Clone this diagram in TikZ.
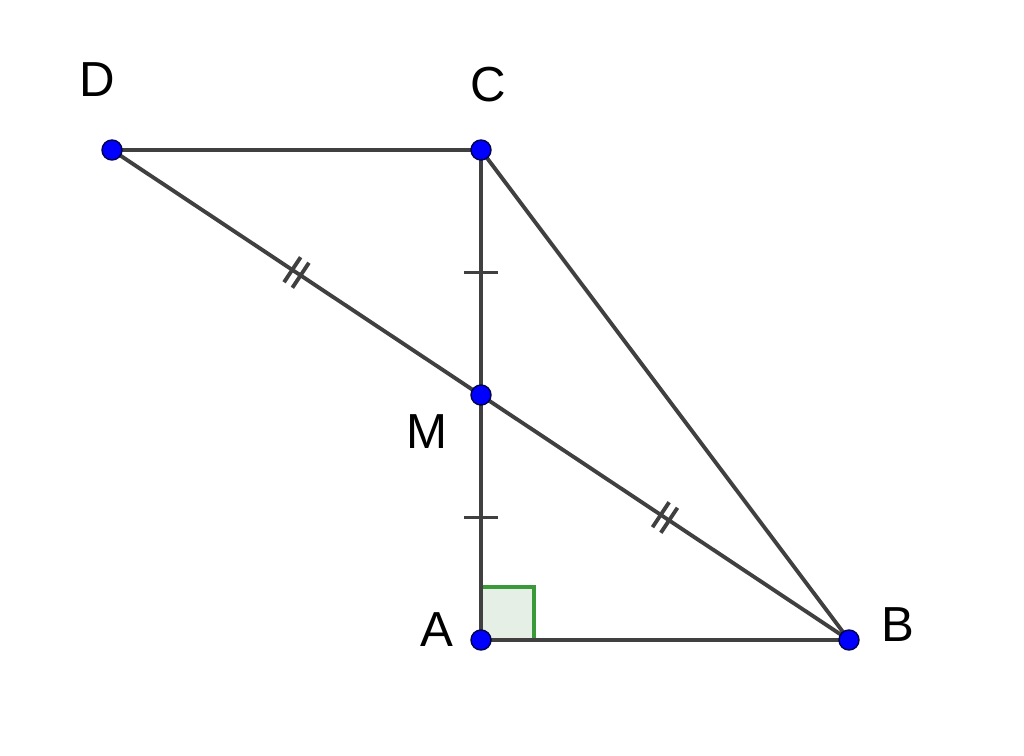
\documentclass[tikz,border=0pt]{standalone}
\usepackage{fontspec}
\setmainfont{Liberation Sans}
\usetikzlibrary{calc}
\definecolor{segcol}{HTML}{404040}
\definecolor{anglecol}{HTML}{3A9A3A}
\definecolor{anglefill}{HTML}{E6EFE6}
\tikzset{
  seg/.style={draw=segcol,line width=1.1pt},
  pt/.style={circle,fill=blue,draw=black!70!blue,line width=0.4pt,inner sep=0pt,minimum size=0.2cm},
  lbl/.style={font=\fontsize{14}{16}\selectfont,text=black}
}
\begin{document}
\begin{tikzpicture}
    \useasboundingbox (0,0) rectangle (10.24,7.56);
    \coordinate (D) at (1.12,6.06);
    \coordinate (C) at (4.81,6.06);
    \coordinate (M) at (4.81,3.61);
    \coordinate (A) at (4.81,1.16);
    \coordinate (B) at (8.49,1.16);
    % right angle at A
    \draw[anglecol,fill=anglefill,line width=1.1pt] (A) rectangle ++(0.53,0.53);
    % segments
    \draw[seg] (D) -- (C) -- (A) -- (B) -- cycle;
    \draw[seg] (C) -- (B);
    % single ticks on CM and MA
    \foreach \p/\q in {C/M,M/A}{
        \coordinate (t) at ($(\p)!0.5!(\q)$);
        \draw[seg] ($(t)!0.17cm!90:(\q)$) -- ($(t)!0.17cm!-90:(\q)$);
    }
    % double ticks on DM and MB
    \foreach \p/\q in {D/M,M/B}{
        \foreach \s in {-0.05,0.05}{
            \coordinate (t) at ($(\p)!0.5!(\q)!\s cm!(\q)$);
            \draw[seg] ($(t)!0.15cm!90:(\q)$) -- ($(t)!0.15cm!-90:(\q)$);
        }
    }
    % points
    \foreach \n in {D,C,M,A,B}
        \node[pt] (p\n) at (\n) {};
    \node[lbl] (lD) at (0.97,6.76) {D};
    \node[lbl] (lC) at (4.88,6.71) {C};
    \node[lbl] (lM) at (4.27,3.24) {M};
    \node[lbl] (lA) at (4.37,1.26) {A};
    \node[lbl] (lB) at (8.98,1.31) {B};
\end{tikzpicture}
\end{document}
